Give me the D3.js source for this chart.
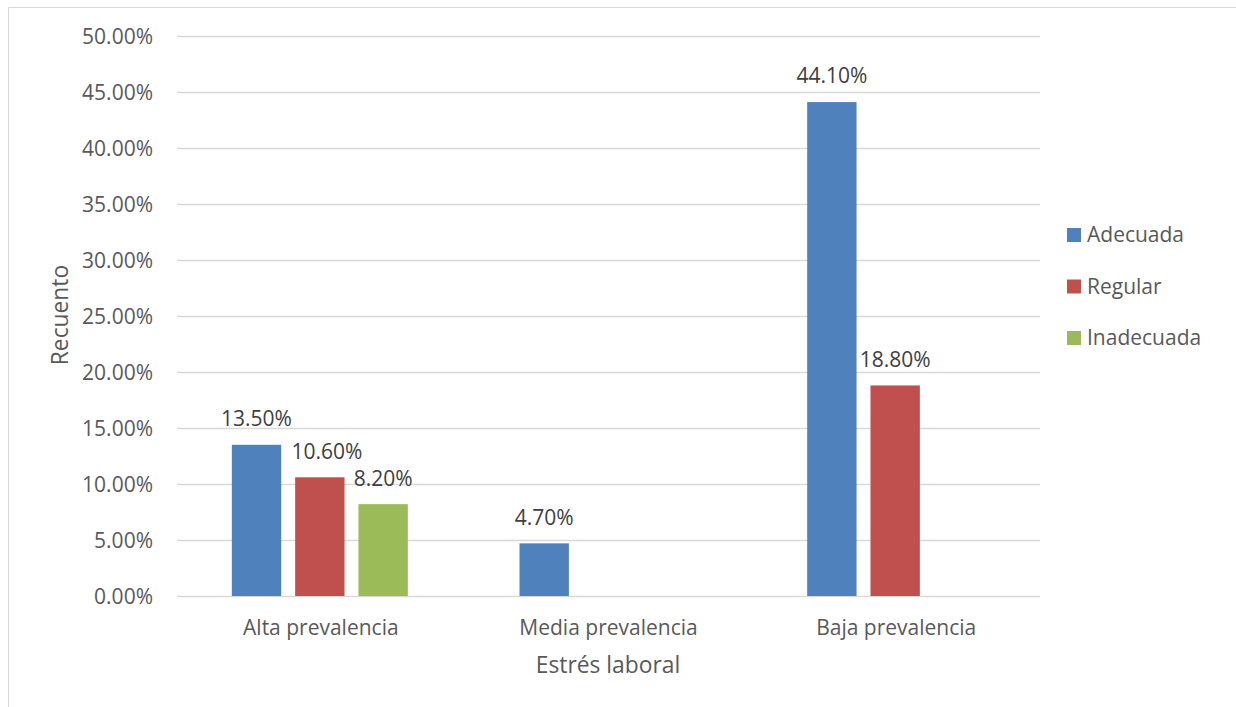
<!DOCTYPE html>
<html><head><meta charset="utf-8">
<script src="https://cdn.jsdelivr.net/npm/d3@7"></script>
<style>body{margin:0;background:#fff;} svg{display:block;}</style>
</head><body>
<svg id="c" width="1236" height="707"></svg>
<script>
const categories = ["Alta prevalencia", "Media prevalencia", "Baja prevalencia"];
const seriesNames = ["Adecuada", "Regular", "Inadecuada"];
const adecuada = [13.5, 4.7, 44.1];
const regular = [10.6, null, 18.8];
const inadecuada = [8.2, null, null];
const yTicks = [0, 5, 10, 15, 20, 25, 30, 35, 40, 45, 50];
const colors = ["#4f81bd", "#c0504d", "#9bbb59"];
const seriesValues = [adecuada, regular, inadecuada];

(function(){
const svg = d3.select("#c");
const font = "'Open Sans', sans-serif";
const fs = 21;
const fsTitle = 22.8;
const txt = "#595959";

// chart border
svg.append("path").attr("d", "M8.5,707 L8.5,7.5 L1236,7.5").attr("fill", "none").attr("stroke", "#d9d9d9").attr("stroke-width", 1);

const pL = 177, pR = 1040, pT = 36, pB = 596;
const x = d3.scaleBand().domain(categories).range([pL, pR]).paddingInner(0).paddingOuter(0);
const y = d3.scaleLinear().domain([0, 50]).range([pB, pT]);
const xs = d3.scaleBand().domain(seriesNames).range([0, 176]).paddingInner(0.22);

// gridlines
svg.append("g").selectAll("line").data(yTicks).join("line")
  .attr("x1", pL).attr("x2", pR)
  .attr("y1", d => Math.round(y(d)) + 0.5).attr("y2", d => Math.round(y(d)) + 0.5)
  .attr("stroke", "#d9d9d9").attr("stroke-width", 1.3);

// y axis labels
const yAxis = d3.axisLeft(y).tickValues(yTicks).tickSize(0).tickPadding(0).tickFormat(d => d3.format(".2f")(d) + "%");
const ga = svg.append("g").attr("transform", `translate(153,0)`).call(yAxis);
ga.select(".domain").remove();
ga.selectAll("text").attr("font-family", font).attr("font-size", fs).attr("fill", txt).attr("dy", "0.35em");

// x axis labels
const xAxis = d3.axisBottom(x).tickSize(0).tickPadding(0);
const gx = svg.append("g").attr("transform", `translate(0,${pB})`).call(xAxis);
gx.select(".domain").remove();
gx.selectAll("text").attr("font-family", font).attr("font-size", fs).attr("fill", txt).attr("y", 32).attr("dy", "0.35em");

// bars
const data = [];
categories.forEach((c, i) => seriesNames.forEach((s, j) => {
  const v = seriesValues[j][i];
  if (v != null) data.push({c, s, v, j});
}));
const groupOffset = (x.bandwidth() - 176) / 2 - 1;
svg.append("g").selectAll("rect").data(data).join("rect")
  .attr("x", d => x(d.c) + groupOffset + xs(d.s))
  .attr("width", xs.bandwidth())
  .attr("y", d => y(d.v)).attr("height", d => y(0) - y(d.v))
  .attr("fill", d => colors[d.j]);

// data labels
const labelDx = {"Alta prevalencia|Regular": 7};
svg.append("g").selectAll("text").data(data).join("text")
  .attr("x", d => x(d.c) + groupOffset + xs(d.s) + xs.bandwidth() / 2 + (labelDx[d.c + "|" + d.s] || 0))
  .attr("y", d => y(d.v) - 26).attr("dy", "0.35em")
  .attr("text-anchor", "middle").attr("font-family", font).attr("font-size", fs).attr("fill", "#404040")
  .text(d => d3.format(".2f")(d.v) + "%");

// axis titles
svg.append("text").attr("transform", "translate(60,315) rotate(-90)").attr("text-anchor", "middle").attr("dy", "0.35em")
  .attr("font-family", font).attr("font-size", fsTitle).attr("fill", txt).text("Recuento");
svg.append("text").attr("x", 608).attr("y", 665).attr("text-anchor", "middle").attr("dy", "0.35em")
  .attr("font-family", font).attr("font-size", fsTitle).attr("fill", txt).text("Estrés laboral");

// legend
const lg = svg.append("g").selectAll("g").data(seriesNames).join("g")
  .attr("transform", (d, i) => `translate(1067,${235 + i * 51.5})`);
lg.append("rect").attr("x", 0).attr("y", -7).attr("width", 14).attr("height", 14).attr("fill", (d, i) => colors[i]);
lg.append("text").attr("x", 20).attr("y", 0).attr("dy", "0.35em").attr("font-family", font).attr("font-size", fs).attr("fill", txt).text(d => d);
})();
</script>
</body></html>
